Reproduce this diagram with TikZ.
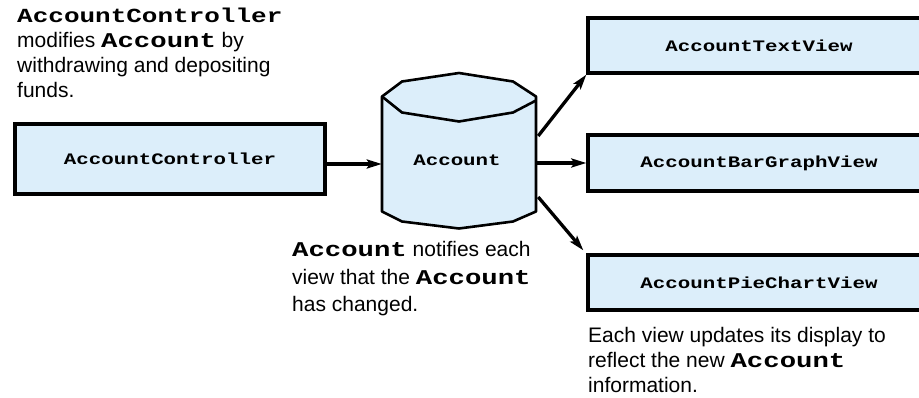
\documentclass[tikz,border=0pt]{standalone}
\usepackage{fontspec}
\setmainfont{Liberation Sans}
\newfontfamily\codefont[FakeStretch=1.3]{Liberation Mono}
\usetikzlibrary{arrows.meta,calc}
\definecolor{viewfill}{RGB}{220,238,250}
\newcommand{\cd}[1]{{\codefont\bfseries #1}}

\begin{document}
\begin{tikzpicture}[x=1pt,y=-1pt,
  classbox/.style={draw, line width=3.3pt, fill=viewfill, inner sep=0pt,
    font=\codefont\bfseries\fontsize{16}{19}\selectfont},
  flow/.style={line width=3.3pt, -{Stealth[length=15pt,width=9pt,inset=3pt]}},
  note/.style={anchor=base west, inner sep=0pt, font=\fontsize{21}{25}\selectfont},
  heading/.style={anchor=base west, inner sep=0pt,
    font=\codefont\bfseries\fontsize{20}{24}\selectfont}]
\useasboundingbox (0,0) rectangle (919,398);

% controller and the three views
\node[classbox, minimum width=310pt, minimum height=70pt] (ctrl) at (170,159) {AccountController};
\node[classbox, minimum width=342pt, minimum height=55pt] (txt) at (759,45.5) {AccountTextView};
\node[classbox, minimum width=342pt, minimum height=56pt] (bar) at (759,163) {AccountBarGraphView};
\node[classbox, minimum width=342pt, minimum height=55pt] (pie) at (759,282.5) {AccountPieChartView};

% the model, drawn as a drum
\node[minimum width=154pt, minimum height=155pt, inner sep=0pt] (acct) at (459,150.5) {};
\begin{scope}[shift={(acct.center)}, line width=2.6pt, line join=round]
  \filldraw[fill=viewfill]
    (-77,-54) -- (-57,-69) -- (0,-77.5) -- (54,-69) -- (77,-54)
    -- (77,61) -- (54,71) -- (0,78) -- (-57,71) -- (-77,61) -- cycle;
  \draw (-77,-54) -- (-57,-38) -- (0,-29) -- (54,-38) -- (77,-50);
\end{scope}
\node[inner sep=0pt, font=\codefont\bfseries\fontsize{16}{19}\selectfont] (acctname)
  at ($(acct.center)+(-2pt,-9.5pt)$) {Account};

% update flow
\draw[flow] ([yshift=-5pt]ctrl.east) -- ([yshift=-5pt]ctrl.east -| acct.west);
\draw[flow] ([shift={(2pt,14.5pt)}]acct.east) -- (txt.south west);
\draw[flow] (acct.east |- bar.west) -- (bar.west);
\draw[flow] ([shift={(2pt,-46.5pt)}]acct.east) -- ([shift={(-3pt,3pt)}]pie.north west);

% notes
\node[heading] (t1) at (17,23) {AccountController};
\node[note] (t2) at (17,48) {modifies \cd{Account} by};
\node[note] (t3) at (17,73) {withdrawing and depositing};
\node[note] (t4) at (17,98) {funds.};

\node[note] (m1) at (292,257) {\cd{Account} notifies each};
\node[note] (m2) at (292,285) {view that the \cd{Account}};
\node[note] (m3) at (292,312) {has changed.};

\node[note] (r1) at (588,342) {Each view updates its display to};
\node[note] (r2) at (588,367) {reflect the new \cd{Account}};
\node[note] (r3) at (588,392) {information.};
\end{tikzpicture}
\end{document}
